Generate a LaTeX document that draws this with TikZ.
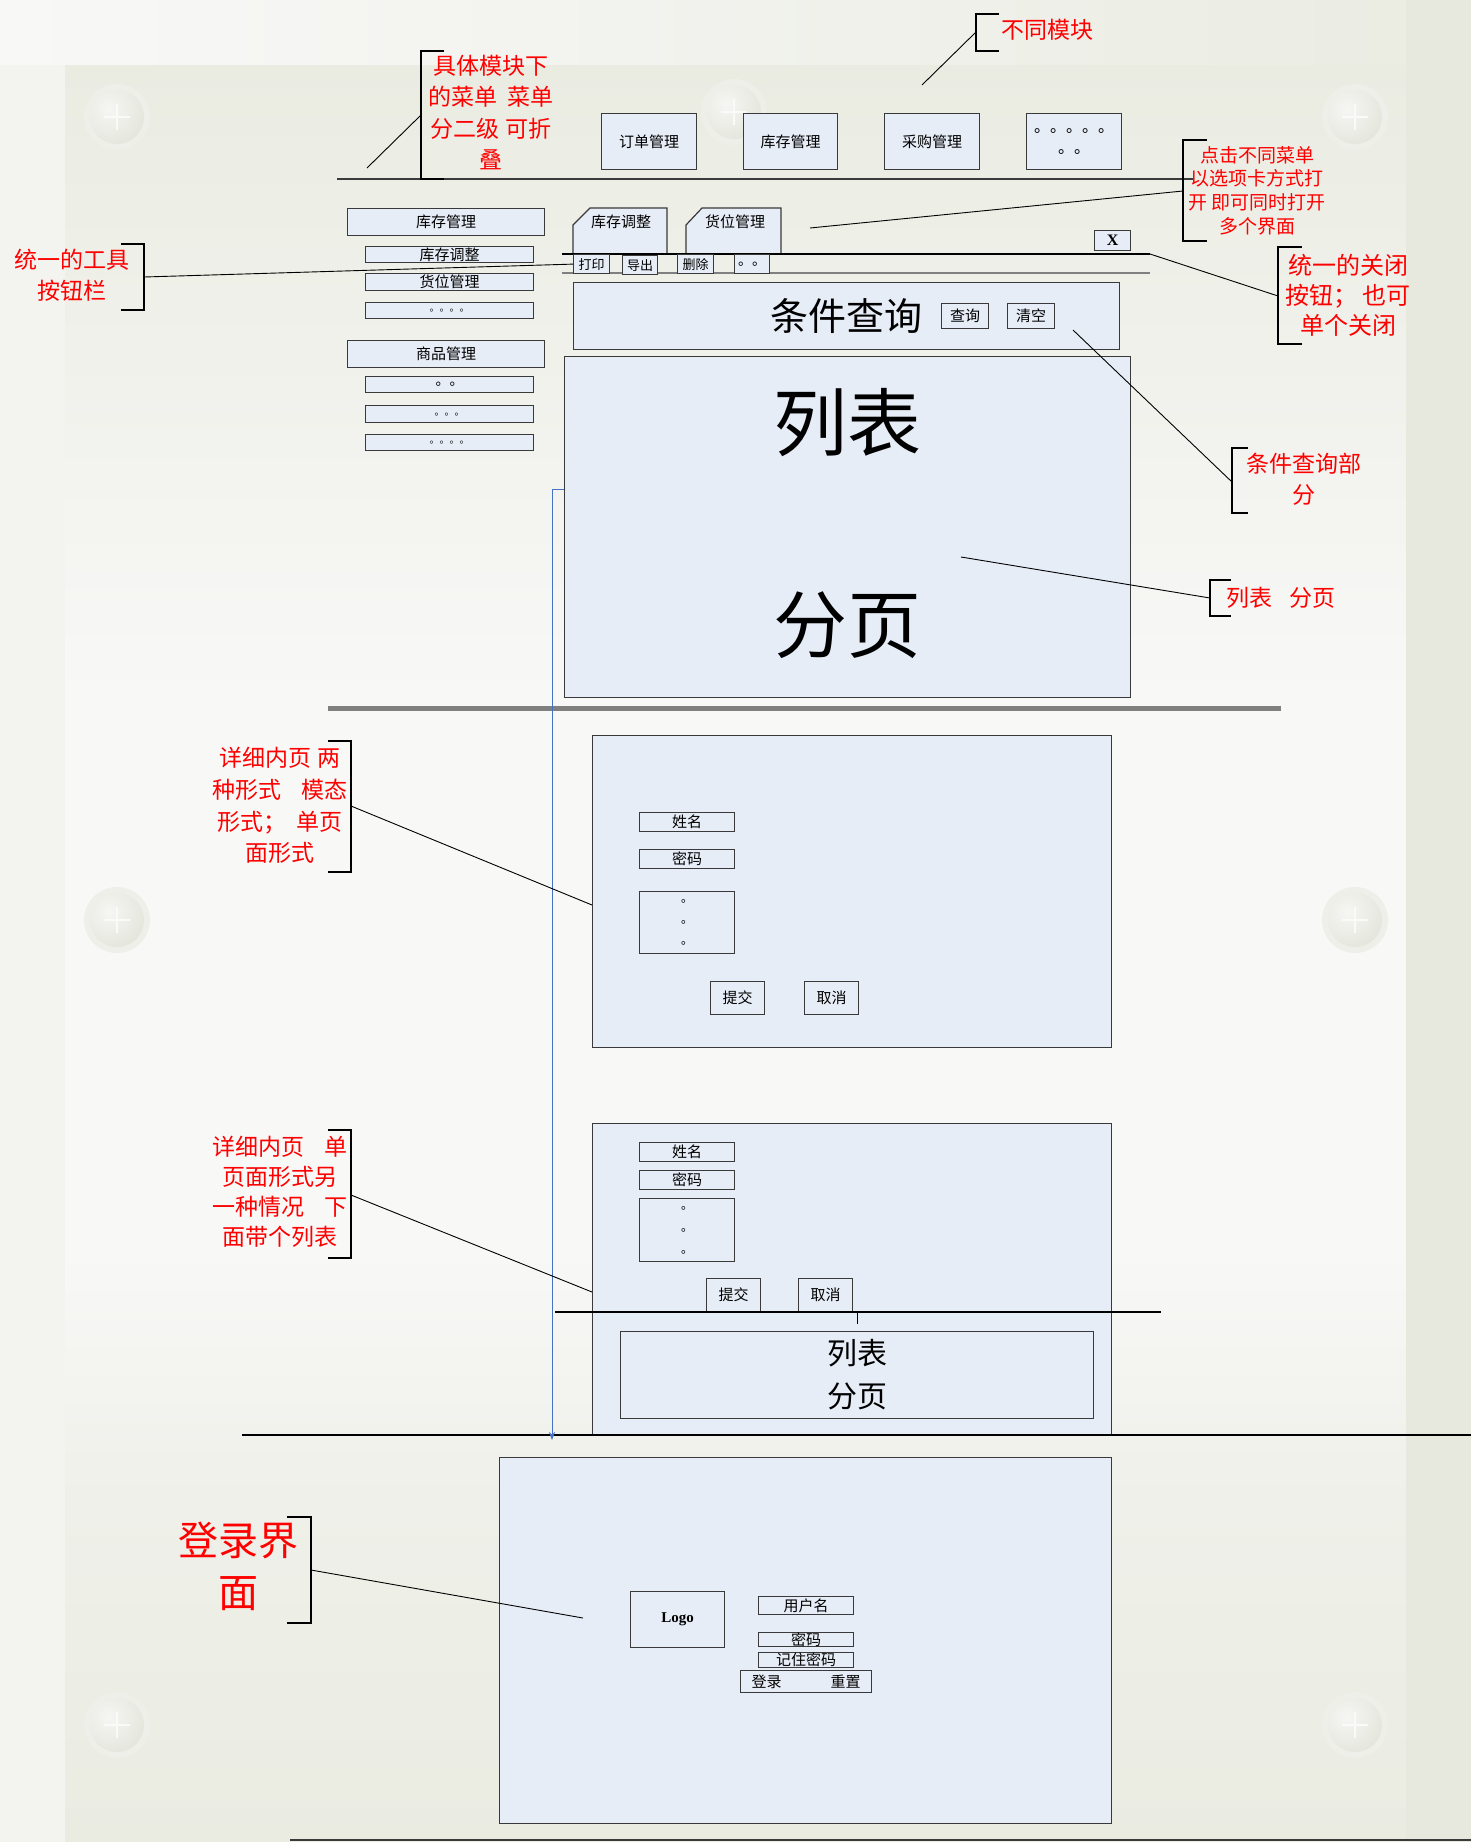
\documentclass[tikz,border=0pt]{standalone}
\usepackage{fontspec}
\setmainfont{Liberation Serif}
\newfontfamily\cjk{Noto Sans CJK SC}
\usetikzlibrary{arrows.meta}
\definecolor{boxfill}{HTML}{E7EDF7}
\definecolor{boxline}{HTML}{3A3A3A}
\definecolor{bgwhite}{HTML}{F8F8F7}
\definecolor{bgbeige}{HTML}{EAECE2}
\definecolor{bgmid}{HTML}{EFF0E9}
\definecolor{bgright}{HTML}{E7E9DE}
\definecolor{bgleft}{HTML}{F3F4F0}
\definecolor{ringc}{HTML}{EEEFE8}
\definecolor{discin}{HTML}{F6F6F3}
\definecolor{discout}{HTML}{E3E5DB}
\definecolor{linkblue}{HTML}{4472C4}
\pgfdeclareverticalshading{bgshade}{100bp}{color(0bp)=(bgbeige); color(25bp)=(bgbeige); color(34.6bp)=(bgmid); color(41.7bp)=(bgwhite); color(57.1bp)=(bgwhite); color(68.4bp)=(bgmid); color(75bp)=(bgbeige); color(100bp)=(bgbeige)}
\newcommand\gap{\hspace{0.45em}}
\begin{document}
\begin{tikzpicture}[x=1pt,y=-1pt,
 box/.style={draw=boxline, fill=boxfill, line width=1.2pt, inner sep=0pt, anchor=north west, align=center, font=\cjk\fontsize{15}{18}\selectfont},
 note/.style={text=red, align=center, inner sep=0pt, font=\cjk\fontsize{23}{31.6}\selectfont},
 lead/.style={draw=black, line width=0.9pt},
 brk/.style={draw=black, line width=1.3pt},
 tabshape/.style={draw=boxline, fill=boxfill, line width=1.2pt},
 plain/.style={inner sep=0pt, font=\cjk\fontsize{15}{18}\selectfont},
]
\useasboundingbox (0,0) rectangle (1471,1842);
% ---------- background ----------
\fill[bgwhite] (0,0) rectangle (1471,1842);
\shade[left color=bgwhite, right color=bgbeige] (0,0) rectangle (1471,65);
\shade[shading=bgshade] (65,65) rectangle (1406,1842);
\fill[bgleft] (0,65) rectangle (65,1842);
\fill[bgright] (1406,0) rectangle (1471,1842);
\foreach \cx/\cy in {117/117,734/112,1355/117,117/920,1355/920,117/1725,1355/1725}{
  \fill[ringc] (\cx,\cy) circle[radius=33pt];
  \begin{scope}
    \clip (\cx,\cy) circle[radius=27pt];
    \shade[inner color=discin, outer color=discout] (\cx-8,\cy-8) circle[radius=40pt];
  \end{scope}
  \draw[white!70!ringc, line width=2pt] (\cx-13,\cy) -- (\cx+13,\cy) (\cx,\cy-13) -- (\cx,\cy+13);
}
% ---------- module row ----------
\node[box,minimum width=95pt,minimum height=56pt] (m1) at (601,113) {订单管理};
\node[box,minimum width=94pt,minimum height=56pt] (m2) at (743,113) {库存管理};
\node[box,minimum width=95pt,minimum height=56pt] (m3) at (884,113) {采购管理};
\node[box,minimum width=95pt,minimum height=56pt,font=\cjk\fontsize{16}{21}\selectfont] (m4) at (1026,113) {。。。。。\\。。};
\coordinate (sepL) at (337,179); \coordinate (sepR) at (1193,179);
\draw[line width=1.2pt, draw=boxline] (sepL) -- (sepR);
% ---------- left menu ----------
\node[box,minimum width=197pt,minimum height=27pt] (L1) at (347,208) {库存管理};
\node[box,minimum width=168pt,minimum height=16pt] (L2) at (365,246) {库存调整};
\node[box,minimum width=168pt,minimum height=17pt] (L3) at (365,273) {货位管理};
\node[box,minimum width=168pt,minimum height=16pt,font=\cjk\fontsize{10}{12}\selectfont] (L4) at (365,302) {。。。。};
\node[box,minimum width=197pt,minimum height=27pt] (L5) at (347,340) {商品管理};
\node[box,minimum width=168pt,minimum height=16pt,font=\cjk\fontsize{14}{16}\selectfont] (L6) at (365,376) {。。};
\node[box,minimum width=168pt,minimum height=17pt,font=\cjk\fontsize{10}{12}\selectfont] (L7) at (365,405) {。。。};
\node[box,minimum width=168pt,minimum height=16pt,font=\cjk\fontsize{10}{12}\selectfont] (L8) at (365,434) {。。。。};
% ---------- tabs and toolbar ----------
\filldraw[tabshape] (573,254) -- (573,225) -- (590,208) -- (667,208) -- (667,254);
\node[plain] (t1) at (621,222) {库存调整};
\filldraw[tabshape] (686,254) -- (686,225) -- (702,208) -- (781,208) -- (781,254);
\node[plain] (t2) at (735,222) {货位管理};
\coordinate (tbL) at (562,254); \coordinate (tbR) at (1150,254);
\coordinate (tb2L) at (562,273); \coordinate (tb2R) at (1150,273);
\draw[line width=2pt] (tbL) -- (tbR);
\draw[line width=1.5pt, draw=gray] (tb2L) -- (tb2R);
\node[box,minimum width=36pt,minimum height=19pt,font=\cjk\fontsize{13}{15}\selectfont] (b1) at (573,254) {打印};
\node[box,minimum width=35pt,minimum height=19pt,font=\cjk\fontsize{13}{15}\selectfont] (b2) at (622,255) {导出};
\node[box,minimum width=36pt,minimum height=19pt,font=\cjk\fontsize{13}{15}\selectfont] (b3) at (677,254) {删除};
\node[box,minimum width=35pt,minimum height=19pt,font=\cjk\fontsize{14}{15}\selectfont] (b4) at (734,254) {。。};
\node[box,minimum width=36pt,minimum height=20pt,font=\bfseries\fontsize{16}{18}\selectfont] (bx) at (1094,230) {X};
% ---------- condition query ----------
\node[box,minimum width=546pt,minimum height=67pt,font=\cjk\fontsize{38}{40}\selectfont] (cond) at (573,282) {条件查询};
\node[box,minimum width=47pt,minimum height=25pt] (q1) at (941,303) {查询};
\node[box,minimum width=47pt,minimum height=25pt] (q2) at (1007,303) {清空};
% ---------- list ----------
\node[box,minimum width=566pt,minimum height=341pt] (list) at (564,356) {};
\node[plain,font=\cjk\fontsize{74}{80}\selectfont] (lt1) at (847,423) {列表};
\node[plain,font=\cjk\fontsize{74}{80}\selectfont] (lt2) at (847,625) {分页};
\coordinate (gsL) at (328,708); \coordinate (gsR) at (1281,708);
\draw[line width=5pt, draw=gray] (gsL) -- (gsR);
% ---------- form 1 ----------
\node[box,minimum width=519pt,minimum height=312pt] (F1) at (592,735) {};
\node[box,minimum width=95pt,minimum height=19pt] (f1n) at (639,812) {姓名};
\node[box,minimum width=95pt,minimum height=19pt] (f1p) at (639,849) {密码};
\node[box,minimum width=95pt,minimum height=62pt,font=\cjk\fontsize{12}{21}\selectfont] (f1d) at (639,891) {。\\。\\。};
\node[box,minimum width=54pt,minimum height=33pt] (f1s) at (710,981) {提交};
\node[box,minimum width=54pt,minimum height=33pt] (f1c) at (804,981) {取消};
% ---------- form 2 ----------
\node[box,minimum width=519pt,minimum height=312pt] (F2) at (592,1123) {};
\node[box,minimum width=95pt,minimum height=19pt] (f2n) at (639,1142) {姓名};
\node[box,minimum width=95pt,minimum height=19pt] (f2p) at (639,1170) {密码};
\node[box,minimum width=95pt,minimum height=63pt,font=\cjk\fontsize{12}{22}\selectfont] (f2d) at (639,1198) {。\\。\\。};
\node[box,minimum width=54pt,minimum height=33pt] (f2s) at (706,1278) {提交};
\node[box,minimum width=54pt,minimum height=33pt] (f2c) at (798,1278) {取消};
\coordinate (f2lineL) at (555,1312); \coordinate (f2lineR) at (1161,1312);
\draw[line width=1.2pt] (f2lineL) -- (f2lineR);
\coordinate (tickA) at (857,1312); \coordinate (tickB) at (857,1324);
\draw[line width=0.8pt] (tickA) -- (tickB);
\node[box,minimum width=473pt,minimum height=87pt,font=\cjk\fontsize{30}{43}\selectfont] (f2l) at (620,1331) {列表\\分页};
\coordinate (hlL) at (242,1435); \coordinate (hlR) at (1471,1435);
\draw[line width=1.2pt] (hlL) -- (hlR);
% ---------- login ----------
\node[box,minimum width=612pt,minimum height=366pt] (LB) at (499,1457) {};
\node[box,minimum width=94pt,minimum height=56pt,font=\bfseries\fontsize{15}{18}\selectfont] (logo) at (630,1591) {Logo};
\node[box,minimum width=95pt,minimum height=18pt] (lu) at (758,1596) {用户名};
\node[box,minimum width=95pt,minimum height=14pt] (lp) at (758,1632) {密码};
\node[box,minimum width=95pt,minimum height=15pt] (lr) at (758,1652) {记住密码};
\node[box,minimum width=131pt,minimum height=22pt] (lbtn) at (740,1670) {登录\hspace{49pt}重置};
\coordinate (botL) at (290,1840); \coordinate (botR) at (1471,1840);
\draw[line width=2pt, draw=boxline] (botL) -- (botR);
% ---------- blue connector ----------
\coordinate (bs) at (564,489); \coordinate (be) at (552,1440);
\draw[draw=linkblue, line width=1pt, -{Stealth[length=8pt,width=6pt]}] (bs) -| (be);
% ---------- annotations ----------
% A1
\node[note] (A1) at (491,112.5) {具体模块下\\的菜单\gap 菜单\\分二级 可折\\叠};
\draw[brk] (444,51) -- (421,51) -- (421,179) -- (444,179);
\coordinate (A1b) at (421,115); \coordinate (A1f) at (367,168);
\draw[lead] (A1f) -- (A1b);
% A2
\node[note] (A2) at (1047,30) {不同模块};
\draw[brk] (999,14) -- (976,14) -- (976,51) -- (999,51);
\coordinate (A2b) at (976,32); \coordinate (A2f) at (922,85);
\draw[lead] (A2f) -- (A2b);
% A3
\node[note,font=\cjk\fontsize{23}{31}\selectfont] (A3) at (72,275.5) {统一的工具\\按钮栏};
\draw[brk] (121,244) -- (144,244) -- (144,310) -- (121,310);
\coordinate (A3b) at (144,277);
\draw[lead] (A3b) -- (b1.west);
% A4
\node[note,font=\cjk\fontsize{19}{23.7}\selectfont] (A4) at (1257,190.5) {点击不同菜单\\以选项卡方式打\\开 即可同时打开\\多个界面};
\draw[brk] (1207,140) -- (1183,140) -- (1183,241) -- (1207,241);
\coordinate (A4b) at (1183,191); \coordinate (A4f) at (810,228);
\draw[lead] (A4f) -- (A4b);
% A5
\node[note,font=\cjk\fontsize{24}{30}\selectfont] (A5) at (1348,295) {统一的关闭\\按钮； 也可\\单个关闭};
\draw[brk] (1302,247) -- (1278,247) -- (1278,344) -- (1302,344);
\coordinate (A5b) at (1278,296);
\draw[lead] (tbR) -- (A5b);
% A6
\node[note,font=\cjk\fontsize{23}{31}\selectfont] (A6) at (1304,479.5) {条件查询部\\分};
\draw[brk] (1248,448) -- (1232,448) -- (1232,513) -- (1248,513);
\coordinate (A6b) at (1232,482); \coordinate (A6f) at (1073,330);
\draw[lead] (A6f) -- (A6b);
% A7
\node[note] (A7) at (1281,598) {列表\hspace{0.7em}分页};
\draw[brk] (1231,580) -- (1210,580) -- (1210,616) -- (1231,616);
\coordinate (A7b) at (1210,598); \coordinate (A7f) at (961,557);
\draw[lead] (A7f) -- (A7b);
% A8
\node[note] (A8) at (280,805.5) {详细内页 两\\种形式\gap\gap 模态\\形式；\gap 单页\\面形式};
\draw[brk] (328,741) -- (351,741) -- (351,872) -- (328,872);
\coordinate (A8b) at (351,806); \coordinate (A8f) at (592,905);
\draw[lead] (A8b) -- (A8f);
% A9
\node[note,font=\cjk\fontsize{23}{30}\selectfont] (A9) at (280,1192) {详细内页\gap\gap 单\\页面形式另\\一种情况\gap\gap 下\\面带个列表};
\draw[brk] (328,1130) -- (351,1130) -- (351,1258) -- (328,1258);
\coordinate (A9b) at (351,1195); \coordinate (A9f) at (592,1292);
\draw[lead] (A9b) -- (A9f);
% A10
\node[note,font=\cjk\fontsize{40}{52}\selectfont] (A10) at (238,1566) {登录界\\面};
\draw[brk] (287,1517) -- (311,1517) -- (311,1623) -- (287,1623);
\coordinate (A10b) at (311,1570); \coordinate (A10f) at (583,1618);
\draw[lead] (A10b) -- (A10f);
\end{tikzpicture}
\end{document}
